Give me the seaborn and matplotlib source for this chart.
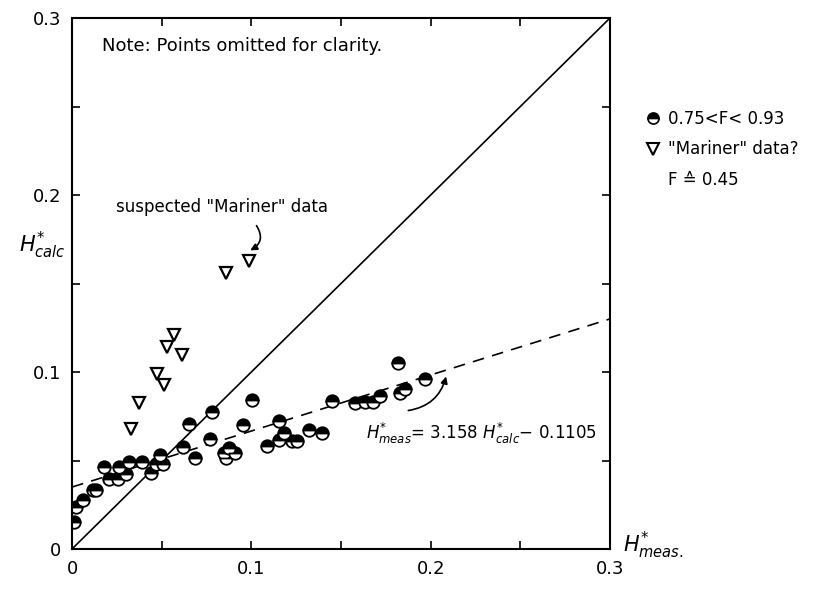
import numpy as np
import pandas as pd
import matplotlib
matplotlib.use("Agg")
import matplotlib.pyplot as plt
from matplotlib.lines import Line2D
from matplotlib.ticker import FixedLocator
import seaborn as sns

# ---- data ----
circ_x = [0.0013, 0.0022, 0.0059, 0.0115, 0.0133, 0.0180, 0.0207, 0.0254, 0.0263, 0.0300,
          0.0319, 0.0389, 0.0439, 0.0467, 0.0491, 0.0509, 0.0620, 0.0652, 0.0685, 0.0781,
          0.0772, 0.0846, 0.0856, 0.0874, 0.0911, 0.0954, 0.1004, 0.1087, 0.1152, 0.1157,
          0.1183, 0.1226, 0.1254, 0.1324, 0.1393, 0.1448, 0.1578, 0.1633, 0.1680, 0.1717,
          0.1819, 0.1828, 0.1856, 0.1970]
circ_y = [0.0155, 0.0240, 0.0279, 0.0332, 0.0332, 0.0463, 0.0397, 0.0397, 0.0463, 0.0425,
          0.0491, 0.0491, 0.0431, 0.0482, 0.0529, 0.0482, 0.0577, 0.0706, 0.0512, 0.0772,
          0.0620, 0.0545, 0.0516, 0.0573, 0.0545, 0.0702, 0.0842, 0.0582, 0.0615, 0.0721,
          0.0653, 0.0611, 0.0611, 0.0672, 0.0653, 0.0835, 0.0823, 0.0829, 0.0833, 0.0867,
          0.1053, 0.0882, 0.0905, 0.0962]

tri_x = [0.0985, 0.0856, 0.0568, 0.0531, 0.0615, 0.0476, 0.0513, 0.0374, 0.0328]
tri_y = [0.1626, 0.1560, 0.1208, 0.1142, 0.1095, 0.0990, 0.0924, 0.0825, 0.0677]

line_x = [0.0, 0.3]
fit_slope = 3.158
fit_icpt = 0.1105

tick_major = [0.0, 0.1, 0.2, 0.3]
tick_labels = ["0", "0.1", "0.2", "0.3"]
tick_minor = [0.05, 0.15, 0.25]

label_circ = "0.75<F< 0.93"
label_tri = "\"Mariner\" data?"
label_tri2 = "F \u2259 0.45"

# ---- style ----
sns.set_style("ticks")
plt.rcParams["font.family"] = ["DejaVu Sans"]
plt.rcParams["text.color"] = "black"
plt.rcParams["xtick.color"] = "black"
plt.rcParams["ytick.color"] = "black"
plt.rcParams["xtick.labelcolor"] = "black"
plt.rcParams["ytick.labelcolor"] = "black"

W, H = 817, 589
fig = plt.figure(figsize=(W / 100, H / 100), dpi=100)
ax = fig.add_axes([72 / W, 1 - 549 / H, (610 - 72) / W, (549 - 18) / H])

df_c = pd.DataFrame({"x": circ_x, "y": circ_y})
df_t = pd.DataFrame({"x": tri_x, "y": tri_y})
fit_y = [(v + fit_icpt) / fit_slope for v in line_x]
df_l = pd.DataFrame({"x": line_x, "y": line_x, "fy": fit_y})

sns.lineplot(data=df_l, x="x", y="y", ax=ax, color="black", lw=1.2,
             estimator=None, sort=False)
sns.lineplot(data=df_l, x="x", y="fy", ax=ax, color="black", lw=1.2,
             estimator=None, sort=False, dashes=False, linestyle=(0, (7, 5)))

sns.lineplot(data=df_c, x="x", y="y", ax=ax, estimator=None, sort=False,
             linestyle="none", marker="o", markersize=9, fillstyle="top",
             markerfacecolor="black", markerfacecoloralt="white",
             markeredgecolor="black", markeredgewidth=1.3, color="black")
sns.lineplot(data=df_t, x="x", y="y", ax=ax, estimator=None, sort=False,
             linestyle="none", marker="v", markersize=9,
             markerfacecolor="white", markeredgecolor="black",
             markeredgewidth=1.6, color="black")

ax.set_xlim(0, 0.3)
ax.set_ylim(0, 0.3)
ax.set_xlabel("")
ax.set_ylabel("")
for a in (ax.xaxis, ax.yaxis):
    a.set_major_locator(FixedLocator(tick_major))
    a.set_minor_locator(FixedLocator(tick_minor))
ax.set_xticklabels(tick_labels)
ax.set_yticklabels(tick_labels)
ax.tick_params(which="both", direction="in", top=True, right=True,
               length=6, width=1.2, labelsize=13, pad=8, colors="black")
for s in ax.spines.values():
    s.set_visible(True)
    s.set_linewidth(1.5)
    s.set_color("black")

# ---- annotations ----
ax.text(0.017, 0.284, "Note: Points omitted for clarity.", fontsize=13,
        ha="left", va="center", color="black")
ax.text(0.0245, 0.193, "suspected \"Mariner\" data", fontsize=12,
        ha="left", va="center", color="black")
ax.annotate("", xy=(0.098, 0.168), xytext=(0.102, 0.184),
            arrowprops=dict(arrowstyle="-|>", color="black", lw=1.2,
                            connectionstyle="arc3,rad=-0.6"))
ax.text(0.164, 0.0655, r"$H^{*}_{meas}$= 3.158 $H^{*}_{calc}$$-$ 0.1105",
        fontsize=12, ha="left", va="center", color="black")
ax.annotate("", xy=(0.209, 0.099), xytext=(0.186, 0.078),
            arrowprops=dict(arrowstyle="-|>", color="black", lw=1.2,
                            connectionstyle="arc3,rad=0.35"))

fig.text(42 / W, 1 - 245 / H, r"$H^{*}_{calc}$", fontsize=15,
         ha="center", va="center", color="black")
fig.text(623 / W, 1 - 545 / H, r"$H^{*}_{meas.}$", fontsize=15,
         ha="left", va="center", color="black")

# ---- legend ----
h_c = Line2D([], [], linestyle="none", marker="o", markersize=8, fillstyle="top",
             markerfacecolor="black", markerfacecoloralt="white",
             markeredgecolor="black", markeredgewidth=1.2)
h_t = Line2D([], [], linestyle="none", marker="v", markersize=8,
             markerfacecolor="white", markeredgecolor="black", markeredgewidth=1.5)
h_e = Line2D([], [], linestyle="none")
leg = fig.legend([h_c, h_t, h_e], [label_circ, label_tri, label_tri2],
                 loc="upper left", bbox_to_anchor=(630 / W, 1 - 95 / H),
                 frameon=False, fontsize=12, handlelength=1.0, handletextpad=0.4,
                 labelspacing=0.75)
for t in leg.get_texts():
    t.set_color("black")

fig.savefig("out.png", dpi=100)
